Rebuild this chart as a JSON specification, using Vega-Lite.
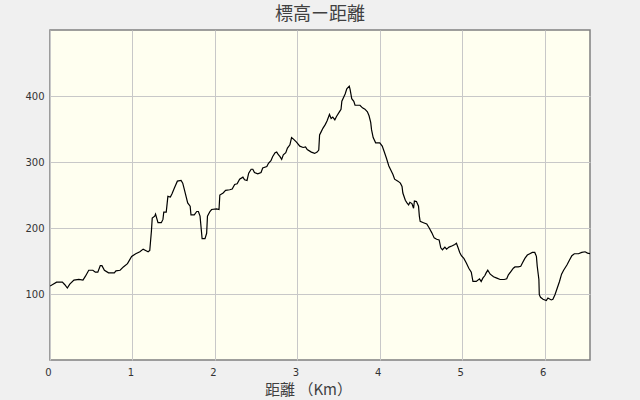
{
  "$schema": "https://vega.github.io/schema/vega-lite/v6.json",
  "autosize": "none",
  "width": 540,
  "height": 330,
  "padding": {"left": 50, "top": 30, "right": 50, "bottom": 40},
  "background": "#f0f0f0",
  "title": {"text": "標高ー距離", "fontSize": 18, "font": "Noto Sans CJK JP", "fontWeight": "normal", "color": "#404040", "offset": 6, "anchor": "middle"},
  "config": {
    "view": {"fill": "#fffff0", "stroke": "#808080", "strokeWidth": 1.5},
    "axis": {"gridColor": "#c8c8c8", "gridWidth": 1, "domain": false, "ticks": false, "labelFont": "DejaVu Sans", "labelFontSize": 10, "labelColor": "#333333", "titleFont": "Noto Sans CJK JP", "titleFontWeight": "normal", "titleColor": "#404040"}
  },
  "data": {"values": [
    {"d":0.00,"e":112},{"d":0.08,"e":118},{"d":0.15,"e":118},{"d":0.18,"e":114},{"d":0.21,"e":109},{"d":0.24,"e":115},{"d":0.29,"e":121},{"d":0.35,"e":122},{"d":0.40,"e":121},{"d":0.43,"e":127},{"d":0.47,"e":136},{"d":0.52,"e":136},{"d":0.55,"e":133},{"d":0.58,"e":133},{"d":0.61,"e":143},{"d":0.63,"e":143},{"d":0.66,"e":136},{"d":0.71,"e":132},{"d":0.78,"e":132},{"d":0.80,"e":135},{"d":0.85,"e":136},{"d":0.89,"e":141},{"d":0.94,"e":146},{"d":0.99,"e":157},{"d":1.04,"e":161},{"d":1.09,"e":164},{"d":1.13,"e":168},{"d":1.16,"e":166},{"d":1.19,"e":164},{"d":1.21,"e":166},{"d":1.23,"e":195},{"d":1.24,"e":215},{"d":1.27,"e":218},{"d":1.28,"e":221},{"d":1.31,"e":208},{"d":1.35,"e":208},{"d":1.37,"e":213},{"d":1.38,"e":224},{"d":1.41,"e":224},{"d":1.43,"e":248},{"d":1.46,"e":247},{"d":1.48,"e":252},{"d":1.51,"e":261},{"d":1.545,"e":271},{"d":1.59,"e":272},{"d":1.61,"e":268},{"d":1.63,"e":258},{"d":1.67,"e":238},{"d":1.70,"e":233},{"d":1.71,"e":220},{"d":1.75,"e":220},{"d":1.78,"e":225},{"d":1.80,"e":225},{"d":1.82,"e":218},{"d":1.845,"e":184},{"d":1.88,"e":184},{"d":1.90,"e":192},{"d":1.91,"e":218},{"d":1.94,"e":225},{"d":1.96,"e":228},{"d":2.02,"e":229},{"d":2.05,"e":228},{"d":2.06,"e":250},{"d":2.10,"e":253},{"d":2.13,"e":257},{"d":2.18,"e":258},{"d":2.21,"e":259},{"d":2.24,"e":266},{"d":2.27,"e":267},{"d":2.30,"e":274},{"d":2.34,"e":277},{"d":2.36,"e":273},{"d":2.39,"e":272},{"d":2.41,"e":283},{"d":2.44,"e":289},{"d":2.46,"e":289},{"d":2.48,"e":284},{"d":2.52,"e":282},{"d":2.56,"e":284},{"d":2.58,"e":291},{"d":2.63,"e":293},{"d":2.65,"e":298},{"d":2.68,"e":302},{"d":2.70,"e":308},{"d":2.73,"e":314},{"d":2.75,"e":315},{"d":2.77,"e":311},{"d":2.79,"e":308},{"d":2.81,"e":304},{"d":2.83,"e":311},{"d":2.86,"e":314},{"d":2.88,"e":321},{"d":2.91,"e":326},{"d":2.93,"e":337},{"d":2.95,"e":335},{"d":2.99,"e":330},{"d":3.03,"e":324},{"d":3.07,"e":322},{"d":3.10,"e":323},{"d":3.12,"e":319},{"d":3.17,"e":315},{"d":3.21,"e":313},{"d":3.24,"e":315},{"d":3.26,"e":318},{"d":3.27,"e":341},{"d":3.29,"e":346},{"d":3.31,"e":351},{"d":3.34,"e":357},{"d":3.36,"e":362},{"d":3.39,"e":372},{"d":3.41,"e":366},{"d":3.43,"e":368},{"d":3.455,"e":364},{"d":3.475,"e":369},{"d":3.51,"e":376},{"d":3.53,"e":380},{"d":3.54,"e":392},{"d":3.58,"e":403},{"d":3.60,"e":411},{"d":3.63,"e":415},{"d":3.64,"e":410},{"d":3.66,"e":396},{"d":3.685,"e":392},{"d":3.70,"e":386},{"d":3.76,"e":386},{"d":3.79,"e":382},{"d":3.82,"e":380},{"d":3.85,"e":376},{"d":3.87,"e":370},{"d":3.89,"e":360},{"d":3.90,"e":349},{"d":3.92,"e":337},{"d":3.95,"e":329},{"d":4.00,"e":329},{"d":4.03,"e":324},{"d":4.05,"e":317},{"d":4.08,"e":306},{"d":4.11,"e":294},{"d":4.16,"e":281},{"d":4.18,"e":274},{"d":4.22,"e":271},{"d":4.25,"e":268},{"d":4.27,"e":263},{"d":4.28,"e":253},{"d":4.31,"e":242},{"d":4.33,"e":238},{"d":4.35,"e":235},{"d":4.365,"e":239},{"d":4.39,"e":237},{"d":4.41,"e":230},{"d":4.42,"e":241},{"d":4.445,"e":240},{"d":4.47,"e":233},{"d":4.48,"e":218},{"d":4.49,"e":210},{"d":4.53,"e":208},{"d":4.57,"e":206},{"d":4.60,"e":200},{"d":4.63,"e":193},{"d":4.66,"e":185},{"d":4.69,"e":183},{"d":4.72,"e":182},{"d":4.74,"e":170},{"d":4.76,"e":167},{"d":4.79,"e":171},{"d":4.81,"e":168},{"d":4.84,"e":171},{"d":4.88,"e":173},{"d":4.91,"e":175},{"d":4.93,"e":177},{"d":4.95,"e":170},{"d":4.97,"e":163},{"d":4.99,"e":158},{"d":5.02,"e":154},{"d":5.05,"e":147},{"d":5.08,"e":139},{"d":5.11,"e":133},{"d":5.13,"e":119},{"d":5.17,"e":119},{"d":5.21,"e":123},{"d":5.23,"e":119},{"d":5.25,"e":124},{"d":5.275,"e":128},{"d":5.29,"e":132},{"d":5.31,"e":136},{"d":5.34,"e":130},{"d":5.38,"e":126},{"d":5.42,"e":124},{"d":5.46,"e":122},{"d":5.51,"e":122},{"d":5.54,"e":123},{"d":5.56,"e":129},{"d":5.59,"e":134},{"d":5.62,"e":139},{"d":5.64,"e":141},{"d":5.68,"e":141},{"d":5.71,"e":142},{"d":5.73,"e":147},{"d":5.76,"e":154},{"d":5.79,"e":159},{"d":5.82,"e":161},{"d":5.85,"e":163},{"d":5.88,"e":163},{"d":5.90,"e":157},{"d":5.91,"e":142},{"d":5.93,"e":122},{"d":5.935,"e":99},{"d":5.95,"e":95},{"d":5.98,"e":92},{"d":6.02,"e":90},{"d":6.04,"e":94},{"d":6.08,"e":91},{"d":6.10,"e":92},{"d":6.125,"e":99},{"d":6.15,"e":108},{"d":6.18,"e":119},{"d":6.205,"e":130},{"d":6.23,"e":136},{"d":6.27,"e":144},{"d":6.30,"e":151},{"d":6.33,"e":158},{"d":6.36,"e":161},{"d":6.41,"e":161},{"d":6.45,"e":163},{"d":6.49,"e":164},{"d":6.52,"e":162},{"d":6.55,"e":161}
  ]},
  "mark": {"type": "line", "color": "#000000", "strokeWidth": 1.2, "clip": true},
  "encoding": {
    "x": {"field": "d", "type": "quantitative", "scale": {"domain": [0, 6.55], "nice": false, "zero": true},
      "axis": {"values": [0, 1, 2, 3, 4, 5, 6], "format": "d", "labelFlush": false, "labelOffset": -2, "labelPadding": 7, "title": "距離 （Km）", "titleFontSize": 15, "titleX": 258, "titleY": 22, "titleBaseline": "top"}},
    "y": {"field": "e", "type": "quantitative", "scale": {"domain": [0, 500], "nice": false},
      "axis": {"values": [100, 200, 300, 400], "labelPadding": 6, "title": null}}
  }
}
